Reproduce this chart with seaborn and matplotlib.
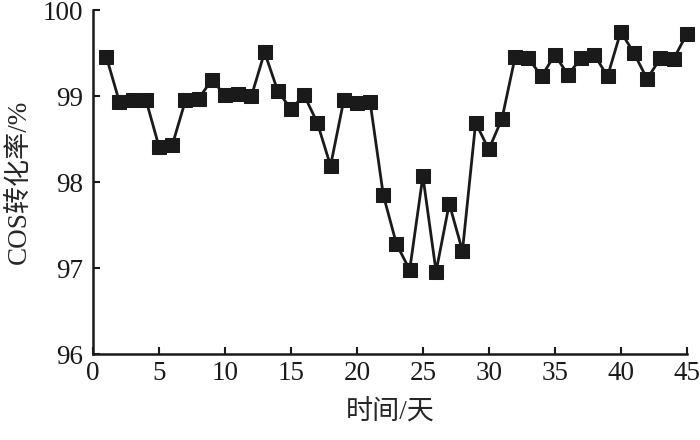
import numpy as np
import pandas as pd
import seaborn as sns
import matplotlib.pyplot as plt

# --- Data ---
days = list(range(1, 46))
conversion = [99.46, 98.93, 98.96, 98.96, 98.41, 98.43, 98.95, 98.97, 99.19, 99.01,
              99.03, 99.00, 99.51, 99.06, 98.85, 99.01, 98.69, 98.19, 98.95, 98.92,
              98.93, 97.85, 97.28, 96.98, 98.07, 96.96, 97.75, 97.20, 98.69, 98.38,
              98.74, 99.46, 99.44, 99.23, 99.48, 99.25, 99.44, 99.48, 99.23, 99.75,
              99.50, 99.20, 99.44, 99.43, 99.72]
x_ticks = [0, 5, 10, 15, 20, 25, 30, 35, 40, 45]
y_ticks = [96, 97, 98, 99, 100]

df = pd.DataFrame({"day": days, "cos": conversion})

sns.set_style("ticks")
plt.rcParams['font.family'] = ['Liberation Serif', 'Noto Sans CJK SC', 'DejaVu Sans']

fig = plt.figure(figsize=(7, 4.4), dpi=100)
ax = fig.add_axes([0.133, 0.195, 0.848, 0.782])

sns.lineplot(data=df, x="day", y="cos", ax=ax, color="#1a1a1a", linewidth=2.0,
             marker="s", markersize=9.5, markeredgecolor="#1a1a1a", clip_on=False)

ax.set_xlim(0, 45)
ax.set_ylim(96, 100)
ax.set_xticks(x_ticks)
ax.set_yticks(y_ticks)
ax.tick_params(direction="in", length=5, width=1.5, labelsize=19.5, colors="#1a1a1a")
ax.tick_params(axis="y", pad=7)
ax.tick_params(axis="x", pad=5)
for s in ["top", "right"]:
    ax.spines[s].set_visible(False)
for s in ["left", "bottom"]:
    ax.spines[s].set_linewidth(1.8)
    ax.spines[s].set_color("#1a1a1a")

ax.set_xlabel("时间/天", fontsize=19.5, labelpad=10,
              family=['Liberation Serif', 'Noto Sans CJK SC'])
ax.set_ylabel("COS转化率/%", fontsize=19.5, labelpad=8,
              family=['Liberation Serif', 'Noto Sans CJK SC'])

fig.savefig("out.png", dpi=100)
